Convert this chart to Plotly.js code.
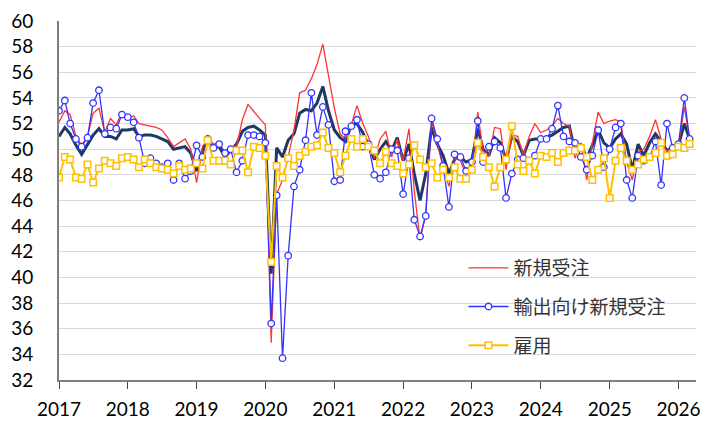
<!DOCTYPE html>
<html>
<head>
<meta charset="utf-8">
<script src="https://cdn.plot.ly/plotly-3.0.1.min.js"></script>
<style>
html,body{margin:0;padding:0;background:#fff;}
#chart{width:705px;height:421px;}
</style>
</head>
<body>
<div id="chart"></div>
<script>
// Monthly series, Jan 2017 - Mar 2026
var startYear = 2017;
var nMonths = 111;

var pmi = [
 51.0,51.7,51.2,50.3,49.6,50.4,51.1,51.6,51.0,51.0,50.8,51.5,
 51.5,51.6,51.0,51.1,51.1,51.0,50.8,50.6,50.0,50.1,50.2,49.7,
 48.3,49.9,50.8,50.2,50.2,49.4,49.9,50.4,51.4,51.7,51.8,51.5,
 51.1,40.3,50.1,49.4,50.7,51.2,52.8,53.1,53.0,53.6,54.9,53.0,
 51.5,50.9,50.6,51.9,52.0,51.3,50.3,49.2,50.0,50.6,49.9,50.9,
 49.1,50.4,48.1,46.0,48.1,51.7,50.4,49.5,48.1,49.2,49.4,49.0,
 49.2,51.6,50.0,49.5,50.9,50.5,49.2,51.0,50.6,49.5,50.7,50.8,
 50.8,50.9,51.1,51.4,51.7,51.8,49.8,50.4,49.3,50.3,51.5,50.5,
 50.1,50.8,51.2,50.4,48.4,50.4,49.5,50.5,51.2,50.6,49.9,50.1,
 50.3,52.0,50.8
];

var newOrders = [
 52.1,53.0,52.7,51.0,50.3,51.0,52.8,53.2,51.3,52.4,51.9,52.9,
 52.4,52.6,52.0,51.9,51.8,51.7,51.5,50.9,50.2,50.5,50.8,50.0,
 47.4,50.2,50.8,50.4,50.5,49.7,50.2,50.2,52.3,53.5,52.9,52.4,
 51.9,34.9,46.5,47.6,49.4,51.5,54.4,54.6,55.5,56.6,58.2,55.6,
 53.2,51.2,50.8,51.9,53.4,52.0,51.0,49.3,50.8,51.4,49.4,50.8,
 49.1,51.6,46.8,42.9,45.0,52.2,50.4,48.6,47.1,49.3,49.1,48.0,
 48.5,52.9,49.9,49.4,51.7,51.6,48.4,51.1,51.0,49.5,51.0,52.0,
 51.3,51.5,51.8,52.4,52.0,51.8,49.3,50.5,47.6,50.5,52.9,52.0,
 52.2,52.3,52.1,49.0,47.6,49.8,50.0,51.0,52.3,50.8,49.8,50.3,
 50.2,53.3,50.8
];

var exportOrders = [
 53.0,53.8,52.0,50.8,50.2,50.9,53.6,54.6,51.2,51.7,51.6,52.7,
 52.5,52.1,50.9,48.9,49.3,48.9,48.6,48.9,47.6,48.9,47.7,48.3,
 50.3,49.4,50.8,50.1,50.4,49.7,50.0,48.2,49.1,51.1,51.1,51.0,
 50.5,36.4,46.4,33.7,41.7,47.1,48.4,50.7,54.4,51.1,53.3,51.9,
 47.5,47.6,51.4,51.8,52.3,50.2,50.4,48.0,47.7,48.2,50.0,49.9,
 46.5,49.3,44.5,43.2,44.8,52.4,50.8,48.7,45.5,49.6,49.4,48.3,
 49.0,52.2,49.0,50.2,50.6,50.1,46.2,48.1,49.2,49.3,49.1,49.5,
 50.8,50.8,51.6,53.4,51.0,50.6,50.5,49.4,48.4,49.5,51.5,48.6,
 50.0,51.7,52.0,47.6,46.2,49.5,49.1,49.4,50.6,47.2,52.0,50.1,
 50.4,54.0,50.8
];

var employment = [
 47.8,49.4,49.2,47.8,47.7,48.8,47.4,48.5,49.1,48.9,48.7,49.3,
 49.4,49.2,48.6,49.2,48.9,48.6,48.5,48.4,48.1,48.7,48.4,48.5,
 48.9,48.5,50.7,49.1,49.1,49.1,48.8,49.9,49.9,48.2,50.2,50.1,
 49.5,41.2,48.7,47.8,49.3,48.7,49.5,49.8,50.2,50.3,51.3,50.1,
 49.7,48.2,49.5,50.8,50.2,50.8,50.2,49.9,48.9,49.8,48.9,48.7,
 48.1,48.8,50.3,49.2,48.6,48.9,47.8,48.4,47.8,48.6,47.7,47.7,
 48.4,50.5,49.4,48.6,47.1,48.6,49.2,51.8,48.8,48.3,49.1,48.1,
 49.5,49.4,49.7,49.0,49.7,49.9,49.9,50.1,49.4,47.6,48.4,49.3,
 46.2,49.1,50.1,49.1,48.4,48.8,49.2,49.4,49.7,50.5,49.5,49.6,
 50.2,50.1,50.4
];

var seriesNames = ['新規受注', '輸出向け新規受注', '雇用'];
var yearTicks = ['2017','2018','2019','2020','2021','2022','2023','2024','2025','2026'];

function monthDates(y0, n) {
  var out = [];
  for (var i = 0; i < n; i++) {
    var y = y0 + Math.floor(i / 12);
    var m = (i % 12) + 1;
    out.push(y + '-' + (m < 10 ? '0' + m : m) + '-01');
  }
  return out;
}
var months = monthDates(startYear, nMonths);
var tickVals = yearTicks.map(function(t){ return t + '-01-01'; });

var traces = [
  {x: months, y: pmi, type: 'scatter', mode: 'lines', showlegend: false,
   line: {color: '#1F3864', width: 3}, hoverinfo: 'skip'},
  {x: months, y: newOrders, type: 'scatter', mode: 'lines', name: seriesNames[0],
   legendgroup: 'a', line: {color: '#FF3333', width: 1.3}},
  {x: months, y: exportOrders, type: 'scatter', mode: 'lines+markers', name: seriesNames[1],
   legendgroup: 'b', line: {color: '#3333FF', width: 1.3},
   marker: {symbol: 'circle', size: 6.5, color: '#FFFFFF', line: {color: '#3333FF', width: 1.3}}},
  {x: months, y: employment, type: 'scatter', mode: 'lines+markers', name: seriesNames[2],
   legendgroup: 'c', line: {color: '#FFC000', width: 2},
   marker: {symbol: 'square', size: 6.5, color: '#FFFFFF', line: {color: '#FFC000', width: 1.5}}}
];

var layout = {
  width: 705, height: 421,
  margin: {l: 59, r: 9, t: 21, b: 41},
  paper_bgcolor: '#FFFFFF', plot_bgcolor: '#FFFFFF',
  font: {family: 'Lato, "Liberation Sans", sans-serif', size: 19, color: '#000000'},
  showlegend: true,
  legend: {
    x: 0.635, y: 0.365, xanchor: 'left', yanchor: 'top',
    bgcolor: 'rgba(0,0,0,0)', borderwidth: 0,
    font: {family: '"Noto Sans CJK JP", sans-serif', size: 19, color: '#333333'},
    tracegroupgap: 11, itemwidth: 40
  },
  xaxis: {
    type: 'date',
    range: ['2017-01-01', '2026-04-04'],
    tickvals: tickVals, ticktext: yearTicks,
    ticks: 'outside', ticklen: 7, tickcolor: '#444444', tickwidth: 1,
    showgrid: false, zeroline: false,
    showline: true, linecolor: '#7F7F7F', linewidth: 1.5,
    ticklabelstandoff: 5,
    tickfont: {size: 19}
  },
  yaxis: {
    range: [32, 60], dtick: 2, tick0: 32,
    showgrid: true, gridcolor: '#D9D9D9', gridwidth: 1,
    zeroline: false, ticks: '',
    showline: true, linecolor: '#7F7F7F', linewidth: 2,
    ticklabelstandoff: 20,
    tickfont: {size: 19}
  }
};

Plotly.newPlot('chart', traces, layout, {staticPlot: true, displayModeBar: false});
</script>
</body>
</html>
